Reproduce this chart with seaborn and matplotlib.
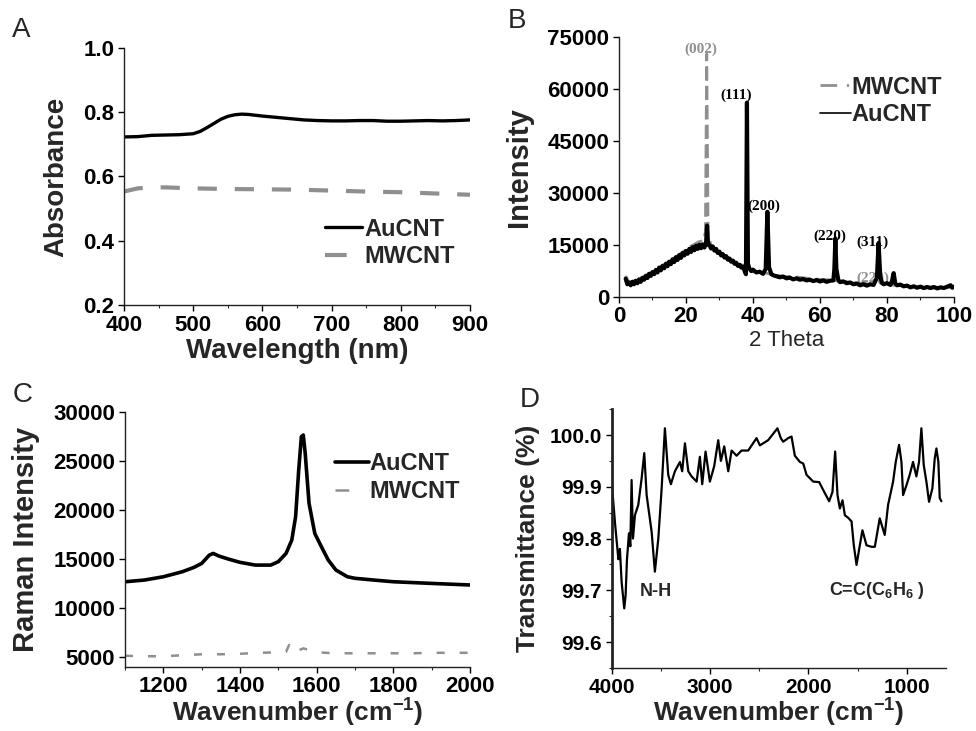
import matplotlib
matplotlib.use('Agg')
import matplotlib.pyplot as plt
from matplotlib.lines import Line2D
from matplotlib.ticker import MultipleLocator, FormatStrFormatter
import seaborn as sns

# --- A: UV-vis absorbance
uv_wl = [400, 420, 440, 460, 480, 500, 510, 520, 530, 540, 550, 560, 570, 580, 600,
         620, 640, 660, 680, 700, 720, 740, 760, 780, 800, 820, 840, 860, 880, 900]
uv_au = [0.723, 0.724, 0.728, 0.729, 0.730, 0.733, 0.740, 0.752, 0.765, 0.778, 0.787,
         0.792, 0.794, 0.793, 0.788, 0.784, 0.780, 0.776, 0.774, 0.773, 0.773, 0.774,
         0.774, 0.772, 0.772, 0.773, 0.774, 0.773, 0.774, 0.776]
uv_wl_mw = [400, 410, 420, 440, 460, 500, 550, 600, 650, 700, 750, 800, 850, 900]
uv_mw = [0.553, 0.558, 0.563, 0.566, 0.566, 0.563, 0.561, 0.560, 0.559, 0.556, 0.553,
         0.551, 0.547, 0.543]

# --- B: XRD
xrd_th_au = [2.0, 2.5, 3, 3.5, 4, 4.5, 5, 5.5, 6, 6.5, 7, 7.5, 8, 8.5, 9, 9.5, 10, 10.5,
             11, 11.5, 12, 12.5, 13, 13.5, 14, 14.5, 15, 15.5, 16, 16.5, 17, 17.5, 18,
             18.5, 19, 19.5, 20, 20.5, 21, 21.5, 22, 22.5, 23, 23.5, 24, 24.5, 25, 25.5,
             26, 26.3, 26.6, 27, 27.5, 28, 28.5, 29, 29.5, 30, 30.5, 31, 31.5, 32, 32.5,
             33, 33.5, 34, 34.5, 35, 35.5, 36, 36.5, 37, 37.5, 37.9, 38.2, 38.5, 38.9,
             39.5, 40, 41, 42, 43, 43.8, 44.3, 44.8, 45.5, 46, 47, 48, 49, 50, 51, 52,
             53, 54, 55, 56, 57, 58, 59, 60, 61, 62, 63, 64, 64.3, 64.6, 64.9, 65.5, 66,
             67, 68, 69, 70, 71, 72, 73, 74, 75, 76, 77, 77.5, 78, 78.5, 79, 80, 81,
             81.5, 82, 82.5, 83, 84, 85, 86, 87, 88, 89, 90, 91, 92, 93, 94, 95, 96, 97,
             98, 99, 99.5, 100]
xrd_au = [5200, 3600, 4100, 3300, 4300, 3600, 4600, 3900, 5000, 4300, 5400, 4900, 6000,
          5400, 6600, 6000, 7100, 6500, 7700, 7000, 8400, 7600, 8900, 8200, 9500, 8800,
          10100, 9400, 10800, 10000, 11400, 10600, 12000, 11200, 12600, 11900, 13200,
          12400, 13800, 12900, 14300, 13400, 14700, 13800, 15000, 14000, 15100, 14200,
          15500, 20500, 15000, 14900, 13900, 14500, 13300, 13800, 12600, 13000, 11900,
          12300, 11300, 11700, 10700, 11000, 10100, 10400, 9500, 9800, 8900, 9200, 8400,
          8700, 7500, 6500, 56000, 9500, 8200, 7400, 7800, 7000, 7200, 6600, 8000,
          24500, 8500, 6500, 6200, 5900, 5600, 5800, 5300, 5500, 5000, 5300, 4900, 5100,
          4700, 4900, 4500, 4800, 4400, 4700, 4300, 4600, 4700, 8000, 16800, 8000, 4700,
          4200, 4400, 3900, 4100, 3600, 3800, 3300, 3600, 3200, 3600, 3400, 5500, 15500,
          6000, 4000, 3600, 3900, 3400, 4500, 6800, 3800, 3300, 3500, 3000, 3200, 2700,
          3000, 2600, 2900, 2500, 2800, 2500, 2800, 2400, 2700, 2500, 2900, 3300, 2600,
          2900]
xrd_th_mw = [2, 3, 5, 7, 10, 13, 16, 19, 21, 23, 24, 25, 25.8, 26.0, 26.2, 26.4, 26.6,
             27.5, 29, 31, 33, 35, 37, 38, 40, 42, 44, 46, 50, 54, 58, 62, 66, 70, 74,
             77.3, 78, 80, 85, 90, 95, 100]
xrd_mw = [6000, 4200, 4700, 5700, 7200, 9000, 10800, 12900, 14300, 15400, 15900, 16100,
          18500, 45000, 70000, 45000, 18000, 14800, 13500, 12200, 11000, 10000, 9000,
          8300, 7500, 7000, 6800, 6300, 5800, 5600, 5100, 4900, 4600, 4000, 3800, 5200,
          3900, 3500, 3100, 2800, 2700, 2700]
xrd_peaks = ['(002)', '(111)', '(200)', '(220)', '(311)']
xrd_peak_th = [24.3, 35.0, 43.3, 63.0, 75.6]
xrd_peak_i = [71500, 58000, 26000, 17300, 15700]

# --- C: Raman
ram_wn_au = [1100, 1150, 1200, 1250, 1280, 1300, 1320, 1330, 1345, 1370, 1400, 1440,
             1480, 1500, 1520, 1535, 1545, 1553, 1560, 1565, 1570, 1580, 1595, 1610,
             1630, 1650, 1680, 1700, 1750, 1800, 1900, 2000]
ram_au = [12650, 12820, 13160, 13680, 14120, 14520, 15370, 15540, 15270, 14960, 14630,
          14350, 14350, 14700, 15540, 16900, 19300, 24000, 27450, 27620, 25750, 20650,
          17580, 16400, 14870, 13850, 13160, 13000, 12820, 12650, 12480, 12320]
ram_wn_mw = [1100, 1150, 1200, 1250, 1300, 1350, 1400, 1450, 1500, 1520, 1528, 1535,
             1550, 1565, 1580, 1600, 1650, 1700, 1750, 1800, 1850, 1900, 1950, 2000]
ram_mw = [5100, 5050, 5050, 5150, 5250, 5250, 5300, 5400, 5450, 5500, 6200, 5500, 5600,
          5850, 5700, 5450, 5350, 5350, 5350, 5350, 5350, 5400, 5400, 5400]

# --- D: FTIR
ir_wn = [4003, 3969, 3942, 3935, 3919, 3902, 3875, 3861, 3847, 3827, 3813, 3800, 3786,
         3766, 3732, 3698, 3671, 3647, 3596, 3563, 3528, 3494, 3461, 3427, 3400, 3359,
         3308, 3285, 3257, 3223, 3189, 3138, 3105, 3081, 3047, 3003, 2959, 2918, 2891,
         2857, 2816, 2782, 2731, 2681, 2613, 2528, 2494, 2410, 2315, 2281, 2257, 2206,
         2172, 2138, 2087, 2053, 2019, 1951, 1890, 1850, 1789, 1755, 1728, 1704, 1680,
         1653, 1629, 1595, 1561, 1538, 1510, 1483, 1450, 1409, 1358, 1324, 1274, 1223,
         1189, 1138, 1111, 1077, 1053, 1036, 1002, 969, 935, 901, 874, 850, 826, 799,
         772, 738, 714, 697, 677, 663, 646]
ir_t = [99.91, 99.83, 99.775, 99.76, 99.78, 99.717, 99.665, 99.69, 99.76, 99.81, 99.785,
        99.913, 99.80, 99.845, 99.865, 99.916, 99.965, 99.884, 99.813, 99.736, 99.80,
        99.897, 100.013, 99.923, 99.905, 99.93, 99.948, 99.93, 99.984, 99.93, 99.92,
        99.91, 99.958, 99.905, 99.968, 99.91, 99.94, 99.99, 99.95, 99.978, 99.93, 99.97,
        99.96, 99.97, 99.97, 99.994, 99.98, 99.99, 100.013, 99.994, 99.987, 99.994,
        99.997, 99.96, 99.948, 99.945, 99.923, 99.91, 99.909, 99.894, 99.872, 99.89,
        99.968, 99.884, 99.858, 99.874, 99.845, 99.84, 99.833, 99.787, 99.749, 99.78,
        99.816, 99.787, 99.784, 99.784, 99.839, 99.807, 99.865, 99.91, 99.948, 99.981,
        99.948, 99.884, 99.903, 99.923, 99.948, 99.92, 99.948, 100.013, 99.942, 99.91,
        99.871, 99.897, 99.955, 99.974, 99.948, 99.878, 99.872]

GRAY = '#8f8f8f'

sns.set_style('ticks')
plt.rcParams['font.family'] = ['Liberation Sans', 'DejaVu Sans']
plt.rcParams['font.weight'] = 'bold'
plt.rcParams['mathtext.fontset'] = 'custom'
plt.rcParams['mathtext.rm'] = 'Liberation Sans:bold'
plt.rcParams['mathtext.it'] = 'Liberation Sans:bold'
plt.rcParams['mathtext.bf'] = 'Liberation Sans:bold'
plt.rcParams['axes.linewidth'] = 1.0
plt.rcParams['axes.edgecolor'] = '#222222'

fig = plt.figure(figsize=(9.76, 7.31), dpi=100)
axA = fig.add_axes([0.1270, 0.5828, 0.3545, 0.3516])
axB = fig.add_axes([0.6342, 0.5941, 0.3432, 0.3557])
axC = fig.add_axes([0.1281, 0.0882, 0.3535, 0.3486])
axD = fig.add_axes([0.6270, 0.0863, 0.3422, 0.3540])


def style_axis(ax, size=16):
    sns.despine(ax=ax)
    ax.tick_params(which='major', direction='out', length=4, width=1, pad=3,
                   labelsize=size, colors='black')
    ax.tick_params(which='minor', direction='out', length=2, width=0.8)
    for t in ax.get_xticklabels() + ax.get_yticklabels():
        t.set_fontweight('bold')


# A
sns.lineplot(x=uv_wl, y=uv_au, ax=axA, color='black', linewidth=2.4, sort=False,
             estimator=None)
sns.lineplot(x=uv_wl_mw, y=uv_mw, ax=axA, color=GRAY, linewidth=3.0, sort=False,
             estimator=None)
axA.lines[-1].set_dashes([4.6, 4.3])
axA.set_xlim(400, 900)
axA.set_ylim(0.2, 1.0)
axA.xaxis.set_major_locator(MultipleLocator(100))
axA.xaxis.set_minor_locator(MultipleLocator(50))
axA.yaxis.set_major_locator(MultipleLocator(0.2))
axA.set_xlabel('Wavelength (nm)', fontsize=20, fontweight='bold', labelpad=2)
axA.set_ylabel('Absorbance', fontsize=20, fontweight='bold', labelpad=10)
style_axis(axA)
hA = [Line2D([], [], color='black', lw=2.4),
      Line2D([], [], color=GRAY, lw=3.0, dashes=[5.2, 10])]
axA.legend(hA, ['AuCNT', 'MWCNT'], loc='upper left', bbox_to_anchor=(0.58, 0.34),
           frameon=False, fontsize=17, handlelength=1.6, handletextpad=0.1,
           labelspacing=0.2, borderpad=0, borderaxespad=0)

# B
sns.lineplot(x=xrd_th_mw, y=xrd_mw, ax=axB, color=GRAY, linewidth=2.0, sort=False,
             estimator=None)
axB.lines[-1].set_dashes([5, 2])
sns.lineplot(x=xrd_th_au, y=xrd_au, ax=axB, color='black', linewidth=3.0, sort=False,
             estimator=None)
axB.set_xlim(0, 100)
axB.set_ylim(0, 75000)
axB.xaxis.set_major_locator(MultipleLocator(20))
axB.xaxis.set_minor_locator(MultipleLocator(10))
axB.yaxis.set_major_locator(MultipleLocator(15000))
for lab, th, it in zip(xrd_peaks, xrd_peak_th, xrd_peak_i):
    axB.text(th, it, lab, family='Liberation Serif', fontweight='bold', fontsize=11,
             ha='center', va='center', color=GRAY if lab == '(002)' else 'black')
axB.text(75.8, 5300, '(220)', family='Liberation Serif', fontweight='bold', fontsize=11,
         ha='center', va='center', color=GRAY, zorder=1)
axB.set_xlabel('2 Theta', fontsize=16, fontweight='normal', labelpad=2)
axB.set_ylabel('Intensity', fontsize=21, fontweight='bold', labelpad=10)
style_axis(axB)
hB = [Line2D([], [], color=GRAY, lw=2.0, dashes=[6, 3.5, 0.8, 6]),
      Line2D([], [], color='black', lw=1.2)]
axB.legend(hB, ['MWCNT', 'AuCNT'], loc='upper left', bbox_to_anchor=(0.60, 0.85),
           frameon=False, fontsize=17, handlelength=1.3, handletextpad=0.05,
           labelspacing=0.2, borderpad=0, borderaxespad=0)

# C
sns.lineplot(x=ram_wn_au, y=ram_au, ax=axC, color='black', linewidth=2.6, sort=False,
             estimator=None)
sns.lineplot(x=ram_wn_mw, y=ram_mw, ax=axC, color=GRAY, linewidth=1.8, sort=False,
             estimator=None)
axC.lines[-1].set_dashes([3.2, 6])
axC.set_xlim(1100, 2000)
axC.set_ylim(4000, 30000)
axC.xaxis.set_major_locator(MultipleLocator(200))
axC.xaxis.set_minor_locator(MultipleLocator(100))
axC.set_yticks([5000, 10000, 15000, 20000, 25000, 30000])
axC.set_xlabel(r'Wavenumber (cm$^{-1}$)', fontsize=19, fontweight='bold', labelpad=0)
axC.set_ylabel('Raman Intensity', fontsize=21, fontweight='bold', labelpad=10)
style_axis(axC)
hC = [Line2D([], [], color='black', lw=2.6),
      Line2D([], [], color=GRAY, lw=1.8, dashes=[5.5, 8, 1, 10])]
axC.legend(hC, ['AuCNT', 'MWCNT'], loc='upper left', bbox_to_anchor=(0.61, 0.84),
           frameon=False, fontsize=17, handlelength=1.4, handletextpad=0.05,
           labelspacing=0.2, borderpad=0, borderaxespad=0)

# D
sns.lineplot(x=ir_wn, y=ir_t, ax=axD, color='black', linewidth=1.6, sort=False,
             estimator=None)
axD.set_xlim(4000, 600)
axD.set_ylim(99.55, 100.05)
axD.xaxis.set_major_locator(MultipleLocator(1000))
axD.xaxis.set_minor_locator(MultipleLocator(500))
axD.yaxis.set_minor_locator(MultipleLocator(0.05))
axD.set_yticks([99.6, 99.7, 99.8, 99.9, 100.0])
axD.yaxis.set_major_formatter(FormatStrFormatter('%.1f'))
axD.spines['left'].set_linewidth(2.0)
axD.text(3552, 99.697, 'N-H', fontsize=13, fontweight='bold', ha='center', va='center')
axD.text(1304, 99.699, r'C=C(C$_6$H$_6$ )', fontsize=13, fontweight='bold',
         ha='center', va='center')
axD.set_xlabel(r'Wavenumber (cm$^{-1}$)', fontsize=19, fontweight='bold', labelpad=0)
axD.set_ylabel('Transmittance (%)', fontsize=19, fontweight='bold', labelpad=7)
style_axis(axD, size=15)

# panel letters
for lab, x, y in [('A', 0.0123, 0.9498), ('B', 0.5205, 0.9617),
                  ('C', 0.0133, 0.450), ('D', 0.533, 0.4433)]:
    fig.text(x, y, lab, fontsize=20, fontweight='normal', va='baseline', ha='left')

fig.savefig('out.png', dpi=100)
